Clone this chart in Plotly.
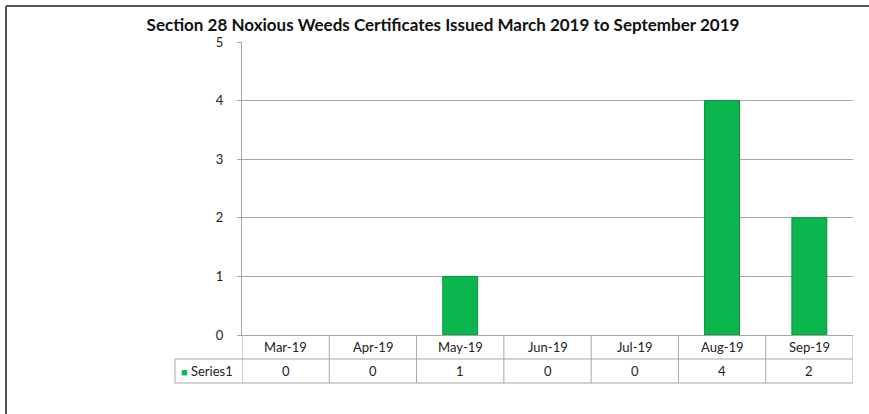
import plotly.graph_objects as go

# data
months = ["Mar-19", "Apr-19", "May-19", "Jun-19", "Jul-19", "Aug-19", "Sep-19"]
certificates = [0, 0, 1, 0, 0, 4, 2]
series_name = "Series1"
title_text = "Section 28 Noxious Weeds Certificates Issued March 2019 to September 2019"

# figure geometry (pixels)
W, H = 869, 414
M_L, M_R, M_T, M_B = 242, 16, 42, 79
PLOT_W = W - M_L - M_R
PLOT_H = H - M_T - M_B

BAR_GREEN = "#0cb64f"
BAR_EDGE = "#07913b"
GRID = "#a6a6a6"
FONT = "Lato, 'Open Sans', sans-serif"


def px_x(px):
    # page pixel -> paper x
    return (px - M_L) / PLOT_W


def px_y(px):
    # page pixel -> paper y
    return (H - M_B - px) / PLOT_H


fig = go.Figure()
fig.add_trace(go.Bar(
    x=months, y=certificates, name=series_name,
    width=0.4,
    marker=dict(color=BAR_GREEN,
                line=dict(color=BAR_EDGE, width=[1 if v else 0 for v in certificates])),
    showlegend=False,
))

shapes = []
annotations = []

# data table under the axis
row1_y = px_y(359)
row2_y = px_y(383)
for y in (row1_y, row2_y):
    shapes.append(dict(type="line", xref="paper", yref="paper",
                       x0=px_x(175), x1=1, y0=y, y1=y,
                       line=dict(color=GRID, width=1)))
for i in range(len(months) + 1):
    shapes.append(dict(type="line", xref="x", yref="paper",
                       x0=i - 0.5, x1=i - 0.5, y0=0, y1=row2_y,
                       line=dict(color=GRID, width=1)))
shapes.append(dict(type="line", xref="paper", yref="paper",
                   x0=px_x(175), x1=px_x(175), y0=row1_y, y1=row2_y,
                   line=dict(color=GRID, width=1)))

for i, (m, v) in enumerate(zip(months, certificates)):
    annotations.append(dict(x=i, y=row1_y / 2, xref="x", yref="paper",
                            xanchor="center", yanchor="middle",
                            text=m, showarrow=False,
                            font=dict(size=13, color="#222")))
    annotations.append(dict(x=i, y=(row1_y + row2_y) / 2, xref="x", yref="paper",
                            xanchor="center", yanchor="middle",
                            text=str(v), showarrow=False,
                            font=dict(size=13, color="#222")))

annotations.append(dict(
    x=px_x(179), y=(row1_y + row2_y) / 2, xref="paper", yref="paper",
    xanchor="left", yanchor="middle", showarrow=False,
    text=f"<span style='color:{BAR_GREEN};font-size:11px'>■</span> {series_name}",
    font=dict(size=13, color="#222")))

# outer chart frame (top and left edges visible)
shapes.append(dict(type="line", xref="paper", yref="paper",
                   x0=px_x(6), x1=px_x(W), y0=px_y(6), y1=px_y(6),
                   line=dict(color="#555", width=2)))
shapes.append(dict(type="line", xref="paper", yref="paper",
                   x0=px_x(6), x1=px_x(6), y0=px_y(6), y1=px_y(H),
                   line=dict(color="#555", width=2)))

fig.update_layout(
    width=W, height=H,
    margin=dict(l=M_L, r=M_R, t=M_T, b=M_B),
    paper_bgcolor="white", plot_bgcolor="white",
    font=dict(family=FONT, size=13, color="#222"),
    title=dict(text=f"<b>{title_text}</b>", x=443 / W, xanchor="center",
               y=1 - 25 / H, yanchor="middle", yref="container", xref="container",
               font=dict(size=17, color="#111")),
    xaxis=dict(showticklabels=False, ticks="", showgrid=False,
               showline=True, linecolor=GRID, range=[-0.5, len(months) - 0.5]),
    yaxis=dict(range=[0, 5], dtick=1, showgrid=True, gridcolor=GRID,
               showline=True, linecolor=GRID, ticks="outside", ticklen=4,
               tickcolor=GRID, zeroline=False, ticklabelstandoff=11,
               tickfont=dict(size=13, color="#222")),
    shapes=shapes,
    annotations=annotations,
    bargap=0.6,
)

fig.write_html("out.html", config={"displayModeBar": False},
               post_script="document.body.style.margin='0';")
